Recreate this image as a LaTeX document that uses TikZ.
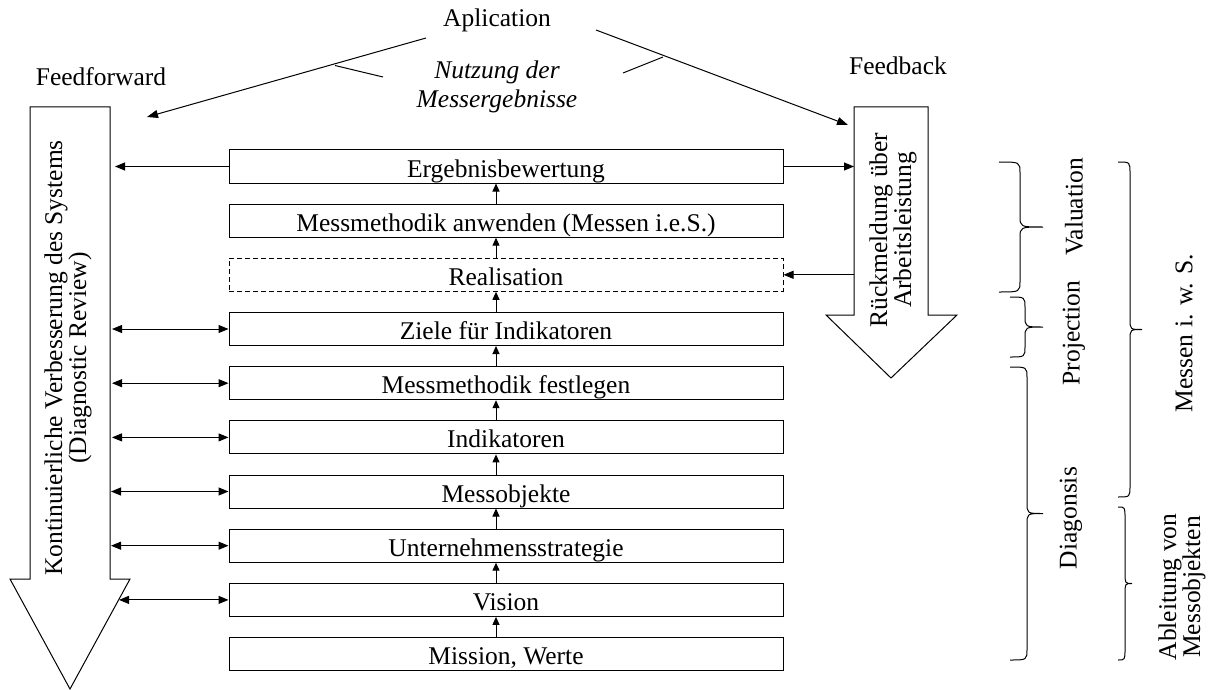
\documentclass[tikz,border=0pt]{standalone}
\usepackage{fontspec}
\setmainfont{Liberation Serif}
\usetikzlibrary{arrows.meta}

% curly brace opening to the right: start x, top y, bottom y, x of the straight part, x of the tip
\newcommand{\curlybrace}[5]{%
  \pgfmathsetmacro{\bym}{(#2+#3)/2}%
  \draw[bracestyle] (#1,#2) .. controls (#4,#2) .. (#4,#2+11)
    -- (#4,\bym-11) .. controls (#4,\bym) .. (#5,\bym)
    .. controls (#4,\bym) .. (#4,\bym+11)
    -- (#4,#3-11) .. controls (#4,#3) .. (#1,#3);%
}

\begin{document}
\begin{tikzpicture}[x=1pt,y=-1pt,
  every node/.style={font=\fontsize{25.5}{30}\selectfont, inner sep=0pt},
  stepbox/.style={draw, line width=1pt, minimum width=554pt, minimum height=33pt,
                  text height=24pt, text depth=3pt},
  dashbox/.style={stepbox, dash pattern=on 5pt off 3pt},
  bigarrow/.style={draw, line width=1pt, line join=miter},
  conn/.style={line width=1pt, -{Triangle[length=10pt,width=8pt]}},
  both/.style={line width=1pt, {Triangle[length=10pt,width=8pt]}-{Triangle[length=10pt,width=8pt]}},
  up/.style={line width=1pt, -{Triangle[length=8pt,width=7pt]}},
  plain/.style={line width=1pt},
  bracestyle/.style={line width=1pt},
  sidelabel/.style={rotate=90},
]
\useasboundingbox (0,0) rectangle (1210,690);

% large hollow arrows
\draw[bigarrow] (30,107) -- (110,107) -- (110,579) -- (130,579) -- (70,689)
  -- (10,579) -- (30,579) -- cycle;
\draw[bigarrow] (854,107) -- (928,107) -- (928,315) -- (957,315) -- (891,378)
  -- (826,315) -- (854,315) -- cycle;
\node[sidelabel, align=center, font=\fontsize{25.5}{24}\selectfont] (kvs) at (68,358)
  {Kontinuierliche Verbesserung des Systems\\(Diagnostic Review)};
\node[sidelabel, align=center, font=\fontsize{25.5}{24}\selectfont] (rm) at (893,230)
  {Rückmeldung über\\Arbeitsleistung};

% process steps
\node[stepbox] (b1) at (506,166.5) {Ergebnisbewertung};
\node[stepbox] (b2) at (506,220.7) {Messmethodik anwenden (Messen i.e.S.)};
\node[dashbox] (b3) at (506,274.8) {Realisation};
\node[stepbox] (b4) at (506,329.0) {Ziele für Indikatoren};
\node[stepbox] (b5) at (506,383.2) {Messmethodik festlegen};
\node[stepbox] (b6) at (506,437.4) {Indikatoren};
\node[stepbox] (b7) at (506,491.5) {Messobjekte};
\node[stepbox] (b8) at (506,545.7) {Unternehmensstrategie};
\node[stepbox] (b9) at (506,599.9) {Vision};
\node[stepbox] (b10) at (506,654.0) {Mission, Werte};

% upward flow between the steps
\foreach \lo/\hi in {b10/b9,b9/b8,b8/b7,b7/b6,b6/b5,b5/b4,b4/b3,b3/b2,b2/b1}
  \draw[up] ([xshift=-10pt]\lo.north) -- ([xshift=-10pt]\hi.south);

% links to the feedforward arrow
\coordinate (ff1) at (115,166.5);
\coordinate (ff4) at (112,329.0);
\coordinate (ff5) at (112,383.2);
\coordinate (ff6) at (112,437.4);
\coordinate (ff7) at (111,491.5);
\coordinate (ff8) at (111,545.7);
\coordinate (ff9) at (119,599.9);
\draw[conn] (b1.west) -- (ff1);
\foreach \i in {4,...,9}
  \draw[both] (ff\i) -- (b\i.west);

% links to the feedback arrow
\coordinate (fbin) at (854,166.5);
\coordinate (fbout) at (854,274.8);
\draw[conn] (b1.east) -- (fbin);
\draw[conn] (fbout) -- (b3.east);

% headings and the use of the results
\node[anchor=base] (apl) at (497,27) {Aplication};
\node[anchor=base] (ff) at (101,86) {Feedforward};
\node[anchor=base] (fb) at (898,75) {Feedback};
\node[align=center, font=\itshape\fontsize{25.5}{29}\selectfont] (nutz) at (497,86.5)
  {Nutzung der\\Messergebnisse};
\coordinate (aplL) at (426,38);
\coordinate (aplR) at (596,30);
\coordinate (ffend) at (147,117);
\coordinate (fbend) at (848,125);
\draw[plain, -{Triangle[length=11pt,width=8pt]}] (aplL) -- (ffend);
\draw[plain, -{Triangle[length=11pt,width=8pt]}] (aplR) -- (fbend);
\coordinate (tickLa) at (335,65.5);
\coordinate (tickLb) at (383,77);
\coordinate (tickRa) at (663,57);
\coordinate (tickRb) at (623,73);
\draw[plain] (tickLa) -- (tickLb);
\draw[plain] (tickRa) -- (tickRb);

% phases on the right
\curlybrace{999}{162}{292}{1020}{1043}
\curlybrace{1010}{297}{357}{1025}{1043}
\curlybrace{1010}{367}{660}{1027}{1043}
\curlybrace{1118}{162}{497}{1130}{1142}
\curlybrace{1118}{507}{660}{1125}{1132}
\node[sidelabel] (val) at (1074,207) {Valuation};
\node[sidelabel] (proj) at (1074,333) {Projection};
\node[sidelabel] (diag) at (1071,518) {Diagonsis};
\node[sidelabel] (mws) at (1184,333) {Messen i. w. S.};
\node[sidelabel, align=center, font=\fontsize{25.5}{21}\selectfont] (abl) at (1182,587)
  {Ableitung von\\Messobjekten};
\end{tikzpicture}
\end{document}
